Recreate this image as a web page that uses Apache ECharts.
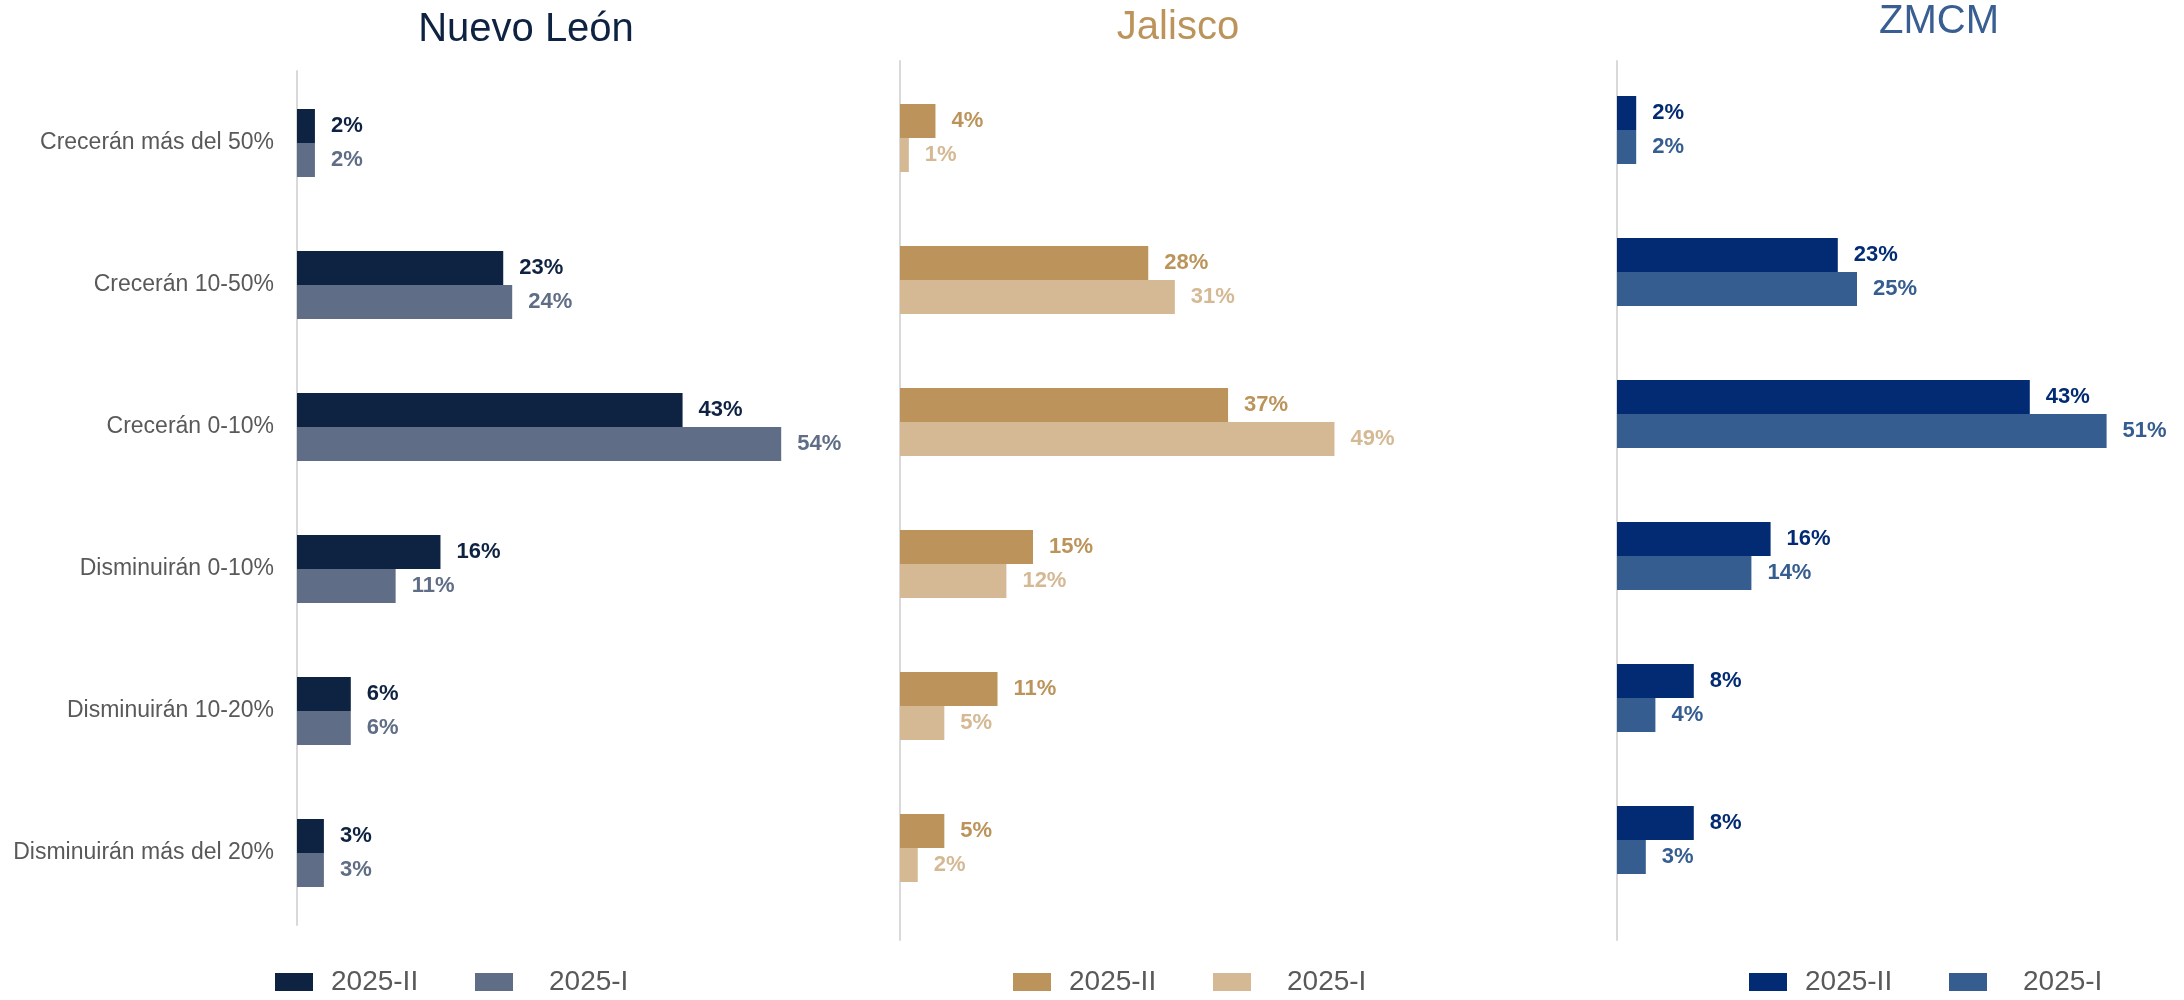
<!DOCTYPE html>
<html>
<head>
<meta charset="utf-8">
<script src="https://cdn.jsdelivr.net/npm/echarts@6/dist/echarts.min.js"></script>
<style>
  html, body { margin: 0; padding: 0; background: #fff; }
  #chart { width: 2184px; height: 1000px; }
</style>
</head>
<body>
<div id="chart"></div>
<script>
// categorías (eje vertical)
const categories = [
  'Crecerán más del 50%',
  'Crecerán 10-50%',
  'Crecerán 0-10%',
  'Disminuirán 0-10%',
  'Disminuirán 10-20%',
  'Disminuirán más del 20%'
]
const seriesNames = ['2025-II', '2025-I']

// Nuevo León
const nl2025II = [2, 23, 43, 16, 6, 3]
const nl2025I = [2, 24, 54, 11, 6, 3]
// Jalisco
const jal2025II = [4, 28, 37, 15, 11, 5]
const jal2025I = [1, 31, 49, 12, 5, 2]
// ZMCM
const zm2025II = [2, 23, 43, 16, 8, 8]
const zm2025I = [2, 25, 51, 14, 4, 3]

const FONT = 'Liberation Sans, Arial, sans-serif'
const GRAY = '#595959'
const AXIS_GRAY = '#D9D9D9'

// cada panel: colores, posición
const panels = [
  { title: 'Nuevo León', titleColor: '#0E2241', titleX: 521, titleTop: 5,
    colors: ['#0E2241', '#5F6E86'], data: [nl2025II, nl2025I],
    left: 297, top: 72, width: 538, max: 60, showLabels: true,
    axisTop: 71, axisBottom: 925, legendX: [270, 470] },
  { title: 'Jalisco', titleColor: '#BC945B', titleX: 1173, titleTop: 3,
    colors: ['#BC945B', '#D4B994'], data: [jal2025II, jal2025I],
    left: 900, top: 67, width: 532, max: 60, showLabels: false,
    axisTop: 61, axisBottom: 940, legendX: [1008, 1208] },
  { title: 'ZMCM', titleColor: '#385E92', titleX: 1934, titleTop: -3,
    colors: ['#022B73', '#355D90'], data: [zm2025II, zm2025I],
    left: 1617, top: 59, width: 528, max: 55, showLabels: false,
    axisTop: 61, axisBottom: 940, legendX: [1744, 1944] }
]

const option = {
  animation: false,
  textStyle: { fontFamily: FONT },
  title: [],
  legend: [],
  grid: [],
  xAxis: [],
  yAxis: [],
  series: []
}

panels.forEach(function (p, i) {
  option.title.push({
    text: p.title,
    left: p.titleX,
    top: p.titleTop,
    textAlign: 'center',
    textStyle: { color: p.titleColor, fontSize: 40, fontWeight: 'normal', fontFamily: FONT }
  })

  // grid de las barras
  option.grid.push({ left: p.left, top: p.top, width: p.width, height: 852 })
  option.xAxis.push({
    type: 'value', gridIndex: i, min: 0, max: p.max, show: false
  })
  option.yAxis.push({
    type: 'category',
    gridIndex: i,
    inverse: true,
    data: categories,
    axisLine: { show: false },
    axisTick: { show: false },
    axisLabel: {
      show: p.showLabels,
      color: GRAY,
      fontSize: 23,
      fontFamily: FONT,
      margin: 23
    }
  })

  p.data.forEach(function (vals, k) {
    option.series.push({
      name: seriesNames[k],
      type: 'bar',
      xAxisIndex: i,
      yAxisIndex: i,
      data: vals,
      barWidth: 34,
      barGap: '0%',
      itemStyle: { color: p.colors[k] },
      label: {
        show: true,
        position: 'right',
        distance: 16,
        formatter: '{c}%',
        color: p.colors[k],
        fontSize: 22,
        fontWeight: 'bold',
        fontFamily: FONT
      }
    })
    // leyenda (una por elemento para fijar la posición)
    option.legend.push({
      left: p.legendX[k],
      top: 963,
      itemWidth: 38,
      itemHeight: 18,
      icon: 'rect',
      selectedMode: false,
      textStyle: { color: GRAY, fontSize: 28, fontFamily: FONT, padding: [0, 0, 0, k === 0 ? 13 : 31] },
      data: [{ name: seriesNames[k], itemStyle: { color: p.colors[k] } }]
    })
  })
})

// líneas verticales del eje (grids extra sin series)
panels.forEach(function (p, i) {
  const g = option.grid.length
  option.grid.push({ left: p.left, top: p.axisTop, width: 10, bottom: 1000 - p.axisBottom })
  option.xAxis.push({ type: 'value', gridIndex: g, show: false })
  option.yAxis.push({
    type: 'value',
    gridIndex: g,
    axisLine: { show: true, lineStyle: { color: AXIS_GRAY, width: 2 } },
    axisTick: { show: false },
    axisLabel: { show: false },
    splitLine: { show: false }
  })
})

const myChart = echarts.init(document.getElementById('chart'))
myChart.setOption(option)
</script>
</body>
</html>
